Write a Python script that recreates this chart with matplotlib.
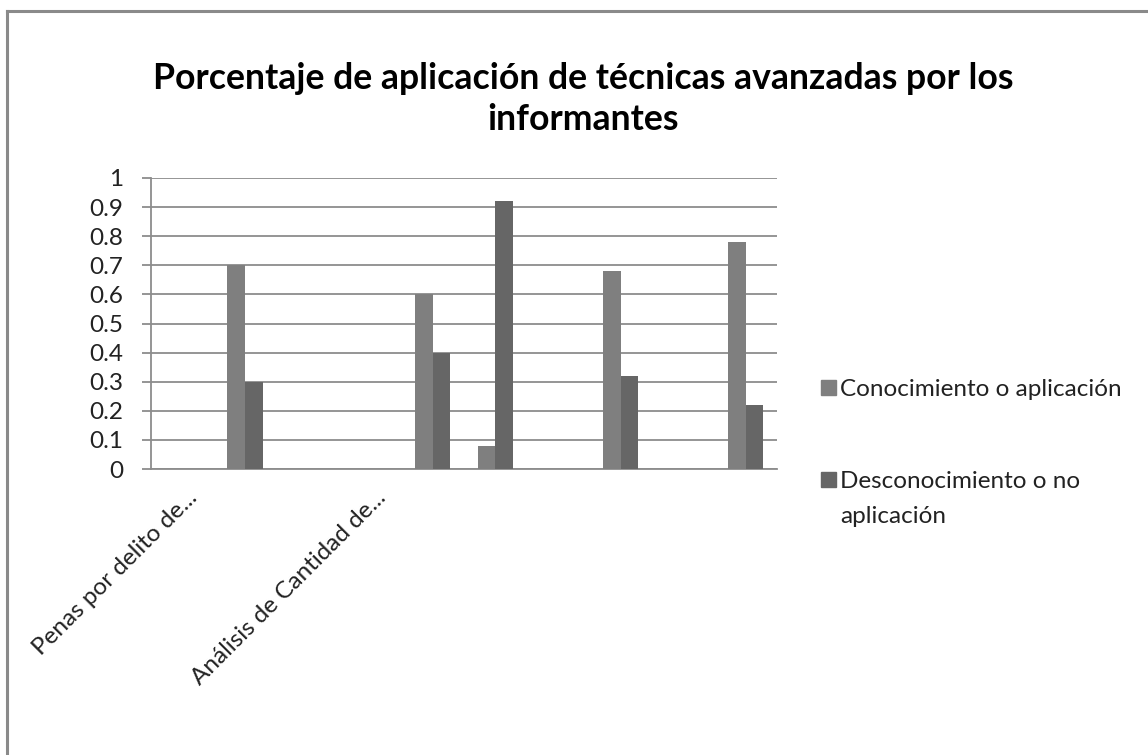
import textwrap
import numpy as np
import matplotlib
matplotlib.use("Agg")
import matplotlib.pyplot as plt
from matplotlib.lines import Line2D
from matplotlib.patches import Rectangle
from matplotlib.transforms import ScaledTranslation

# ---------------- data ----------------
categories = ["Penas por delito de...", "", "", "Análisis de Cantidad de...",
              "", "", "", "", "", ""]
series_names = ["Conocimiento o aplicación", "Desconocimiento o no aplicación"]
conocimiento = [0, 0.70, 0, 0, 0.60, 0.08, 0, 0.68, 0, 0.78]
desconocimiento = [0, 0.30, 0, 0, 0.40, 0.92, 0, 0.32, 0, 0.22]
yticks = [0, 0.1, 0.2, 0.3, 0.4, 0.5, 0.6, 0.7, 0.8, 0.9, 1]
title = "Porcentaje de aplicación de técnicas avanzadas por los\ninformantes"
colors = ["#7f7f7f", "#666666"]

# ---------------- figure ----------------
W, H = 1148, 755
plt.rcParams["font.family"] = ["Lato", "DejaVu Sans"]
fig = plt.figure(figsize=(W / 100, H / 100), dpi=100)

def fx(px):
    return px / W

def fy(py):
    return 1 - py / H

ax = fig.add_axes([fx(151), fy(469), fx(777) - fx(151), fy(178) - fy(469)])

x = np.arange(len(categories))
bw = 0.283
ax.bar(x - bw / 2, conocimiento, bw, color=colors[0], zorder=3)
ax.bar(x + bw / 2, desconocimiento, bw, color=colors[1], zorder=3)

ax.set_xlim(-0.5, len(categories) - 0.5)
ax.set_ylim(0, 1)
ax.set_yticks(yticks)
ax.set_yticklabels([f"{v:g}" for v in yticks], fontsize=17.5, color="#222222")
ax.tick_params(axis="y", length=6.5, width=1.3, color="#8c8c8c", pad=13.5)
ax.yaxis.grid(True, color="#8c8c8c", linewidth=1.3, zorder=0)
ax.set_axisbelow(True)

ax.set_xticks(x)
ax.set_xticklabels(categories, rotation=45, ha="right", va="center",
                   rotation_mode="anchor", fontsize=17.5, color="#222222")
ax.tick_params(axis="x", length=0, pad=22)
off = ScaledTranslation(12 / 100, 5 / 100, fig.dpi_scale_trans)
for lab in ax.get_xticklabels():
    lab.set_transform(lab.get_transform() + off)

for s in ["top", "right"]:
    ax.spines[s].set_visible(False)
for s in ["left", "bottom"]:
    ax.spines[s].set_color("#8c8c8c")
    ax.spines[s].set_linewidth(1.3)

# title
fig.text(fx(583), fy(99), title, ha="center", va="center", fontsize=25.7,
         fontweight="bold", color="black", linespacing=1.3)

# legend (manual, Excel style)
leg_base = [396, 488]
for i, name in enumerate(series_names):
    yb = leg_base[i]
    fig.patches.append(Rectangle((fx(821), fy(yb - 1)), fx(15), 15 / H,
                                 transform=fig.transFigure, color=colors[i]))
    for j, line in enumerate(textwrap.wrap(name, 26)):
        fig.text(fx(840), fy(yb + 35 * j), line, ha="left", va="baseline",
                 fontsize=17.5, color="#222222")

# outer chart border
fig.add_artist(Line2D([fx(7), 1], [fy(11), fy(11)], color="#8a8a8a", lw=2.2,
                      transform=fig.transFigure))
fig.add_artist(Line2D([fx(7), fx(7)], [fy(11), 0], color="#8a8a8a", lw=2.2,
                      transform=fig.transFigure))

fig.savefig("out.png", dpi=100)
